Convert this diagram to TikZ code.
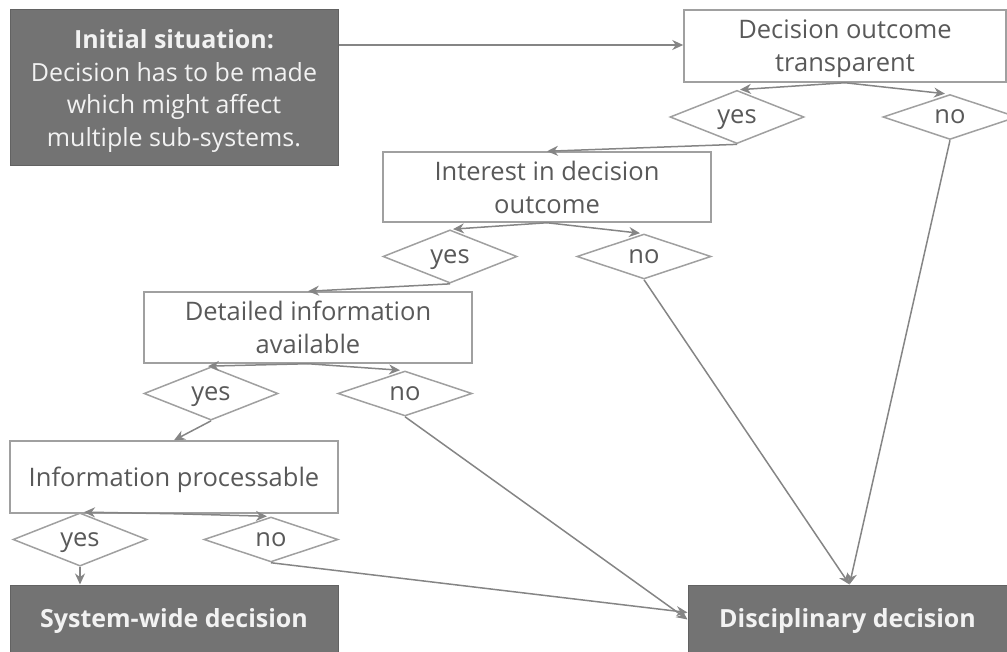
\documentclass[tikz,border=0pt]{standalone}
\usepackage{fontspec}
\setmainfont{Open Sans}
\usetikzlibrary{shapes.geometric,arrows.meta}
\definecolor{darkbox}{HTML}{737373}
\definecolor{boxline}{HTML}{A0A0A0}
\definecolor{linegray}{HTML}{858585}
\definecolor{txtgray}{HTML}{595959}
\definecolor{lighttxt}{HTML}{F2F2F2}
\tikzset{
  dbox/.style={draw=darkbox!85!black, line width=1pt, fill=darkbox, text=lighttxt, inner sep=0pt, align=center,
    font=\fontsize{25}{32.5}\selectfont, text depth=0pt},
  wbox/.style={draw=boxline, line width=1.5pt, fill=white, text=txtgray, inner sep=0pt, align=center,
    font=\fontsize{25.5}{33}\selectfont, text depth=0pt},
  dia/.style={diamond, draw=boxline, line width=1.5pt, fill=white, text=txtgray, inner sep=0pt,
    minimum width=134pt, minimum height=45pt, font=\fontsize{25.5}{28}\selectfont, text depth=0pt},
  conn/.style={draw=linegray, line width=1.5pt, -{Stealth[length=11pt,width=10pt]}},
}
\begin{document}
\begin{tikzpicture}[x=1pt,y=-1pt]
\useasboundingbox (0,0) rectangle (1007,652);
% dark boxes
\node[dbox, minimum width=328pt, minimum height=156pt] (init) at (174,88)
  {\textbf{Initial situation:}\\Decision has to be made\\which might affect\\multiple sub-systems.};
\node[dbox, minimum width=328pt, minimum height=67pt, font=\fontsize{25}{28}\selectfont\bfseries] (sys) at (174,618.5) {System-wide decision};
\node[dbox, minimum width=319pt, minimum height=67pt, font=\fontsize{25}{28}\selectfont\bfseries] (disc) at (847.5,618.5) {Disciplinary decision};
% white boxes
\node[wbox, minimum width=322pt, minimum height=72pt] (q1) at (845,46) {Decision outcome\\transparent};
\node[wbox, minimum width=328pt, minimum height=70pt] (q2) at (547,187) {Interest in decision\\outcome};
\node[wbox, minimum width=328pt, minimum height=71pt] (q3) at (308,327.5) {Detailed information\\available};
\node[wbox, minimum width=328pt, minimum height=72pt] (q4) at (174,477) {Information processable};
% diamonds
\node[dia] (y1) at (737,117) {yes};
\node[dia] (n1) at (950,117) {no};
\node[dia] (y2) at (450,256.5) {yes};
\node[dia] (n2) at (644,256.5) {no};
\node[dia] (y3) at (211,393.5) {yes};
\node[dia] (n3) at (405,393.5) {no};
\node[dia] (y4) at (80,539.5) {yes};
\node[dia] (n4) at (271,539.5) {no};
% connectors
\draw[conn] (init.east |- 0,45) -- (q1.west |- 0,45);
\draw[conn] (q1.south) -- ([xshift=3pt]y1.north);
\draw[conn] (q1.south) -- ([xshift=-5pt]n1.north);
\draw[conn] (y1.south) -- (q2.north);
\draw[conn] (q2.south) -- ([xshift=3pt]y2.north);
\draw[conn] (q2.south) -- ([xshift=-4pt]n2.north);
\draw[conn] (y2.south) -- (q3.north);
\draw[conn] (q3.south) -- ([xshift=-3pt]y3.north);
\draw[conn] (q3.south) -- ([xshift=-5pt]n3.north);
\draw[conn] (y3.south) -- (q4.north);
\draw[conn] (q4.south) -- ([xshift=4pt]y4.north);
\draw[conn] (q4.south) -- ([xshift=-4pt]n4.north);
\draw[conn] (y4.south) -- (y4.south |- sys.north);
\draw[conn] (n1.south) -- ([xshift=2pt]disc.north);
\draw[conn] (n2.south) -- ([xshift=2pt]disc.north);
\draw[conn] (n3.south) -- ([yshift=-1pt]disc.west);
\draw[conn] (n4.south) -- ([yshift=6pt]disc.west);
\end{tikzpicture}
\end{document}
